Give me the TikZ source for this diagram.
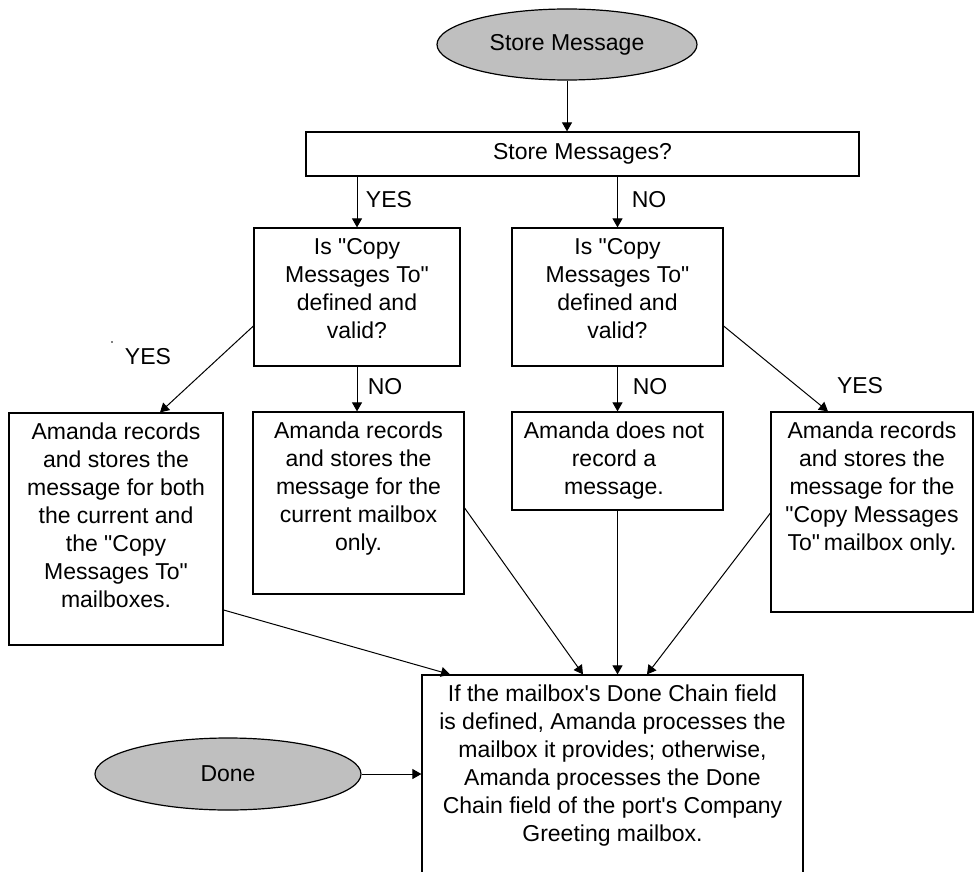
\documentclass[tikz,border=0pt]{standalone}
\usepackage{fontspec}
\setmainfont{Liberation Sans}
\usetikzlibrary{arrows.meta,shapes.geometric,calc}
\newcommand{\dq}{\textquotedbl}
\newcommand{\sq}{\textquotesingle}
\tikzset{
  boxnode/.style={draw=black, line width=1.2pt, fill=white, rectangle, inner sep=0pt},
  ovalnode/.style={draw=black, line width=1.2pt, fill=gray!50, ellipse, inner sep=0pt, font=\fontsize{23}{28}\selectfont},
  txt/.style={font=\fontsize{23}{28}\selectfont, align=center, inner sep=0pt, anchor=north},
  lbl/.style={font=\fontsize{23}{28}\selectfont, inner sep=0pt},
  conn/.style={draw=black, line width=1pt, -{Triangle[length=9pt,width=10pt]}}
}
\begin{document}
\begin{tikzpicture}[x=1pt,y=-1pt]
\clip (0,0) rectangle (974,872);
\fill[white] (0,0) rectangle (974,872);

% nodes
\node[ovalnode, minimum width=260pt, minimum height=71pt] (sm) at (567,44.5) {Store Message};
\node[boxnode, minimum width=553pt, minimum height=44pt, font=\fontsize{23}{28}\selectfont] (q) at (582.5,154) {Store Messages?};

\node[boxnode, minimum width=206pt, minimum height=138pt] (dl) at (357,297) {};
\node[txt] (dlt) at (357,238) {Is \dq Copy\\Messages To\dq\\defined and\\valid?};
\node[boxnode, minimum width=211pt, minimum height=138pt] (dr) at (617.5,297) {};
\node[txt] (drt) at (617.5,238) {Is \dq Copy\\Messages To\dq\\defined and\\valid?};

\node[boxnode, minimum width=214pt, minimum height=232pt] (b1) at (116,529) {};
\node[txt] (b1t) at (116,423) {Amanda records\\and stores the\\message for both\\the current and\\the \dq Copy\\Messages To\dq\\mailboxes.};
\node[boxnode, minimum width=211pt, minimum height=182pt] (b2) at (358.5,503) {};
\node[txt] (b2t) at (358.5,422) {Amanda records\\and stores the\\message for the\\current mailbox\\only.};
\node[boxnode, minimum width=211pt, minimum height=98pt] (b3) at (617.5,461) {};
\node[txt] (b3t) at (614,422) {Amanda does not\\record a\\message.};
\node[boxnode, minimum width=202pt, minimum height=200pt] (b4) at (872,512) {};
\node[txt] (b4t) at (872,422) {Amanda records\\and stores the\\message for the\\\dq Copy Messages\\To\dq\,mailbox only.};

\node[boxnode, minimum width=381pt, minimum height=205pt] (fb) at (612.5,777.5) {};
\node[txt] (fbt) at (612.5,685) {If the mailbox\sq s Done Chain field\\is defined, Amanda processes the\\mailbox it provides; otherwise,\\Amanda processes the Done\\Chain field of the port\sq s Company\\Greeting mailbox.};

\node[ovalnode, minimum width=266pt, minimum height=72pt] (dn) at (228,774) {Done};

% labels
\node[lbl] (l1) at (389,200) {YES};
\node[lbl] (l2) at (649,200) {NO};
\node[lbl] (l3) at (148,357) {YES};
\node[lbl] (l4) at (385,387) {NO};
\node[lbl] (l5) at (650,387) {NO};
\node[lbl] (l6) at (860,386) {YES};
\fill (112,342) circle (0.8pt);

% connectors
\draw[conn] (sm.south) -- (sm.south |- q.north);
\draw[conn] (dl.north |- q.south) -- (dl.north);
\draw[conn] (dr.north |- q.south) -- (dr.north);
\draw[conn] ([yshift=-29pt]dl.west) -- ([xshift=44pt]b1.north);
\draw[conn] (dl.south) -- (dl.south |- b2.north);
\draw[conn] (dr.south) -- (dr.south |- b3.north);
\draw[conn] ([yshift=-29pt]dr.east) -- ([xshift=-44pt]b4.north);
\draw[conn] ([yshift=-81pt]b1.east) -- ([xshift=-162.5pt]fb.north);
\draw[conn] ([yshift=-5pt]b2.east) -- ([xshift=-29.5pt]fb.north);
\draw[conn] (b3.south) -- (b3.south |- fb.north);
\draw[conn] ([yshift=-1pt]b4.west) -- ([xshift=34.5pt]fb.north);
\draw[conn] (dn.east) -- (dn.east -| fb.west);
\end{tikzpicture}
\end{document}
